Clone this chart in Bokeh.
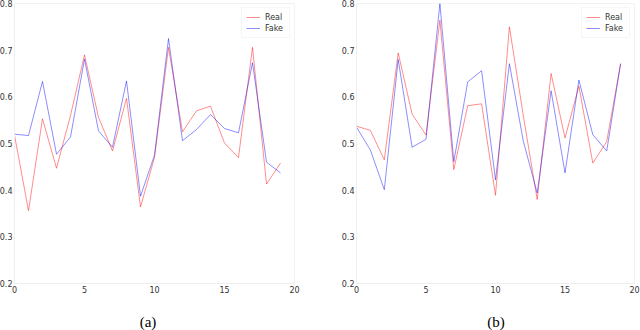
from bokeh.plotting import figure
from bokeh.layouts import row, column
from bokeh.models import Range1d, FixedTicker, Legend, LegendItem, Div
from bokeh.embed import file_html
from bokeh.resources import INLINE

x_vals = list(range(20))

real_a = [0.518, 0.356, 0.553, 0.447, 0.56, 0.690, 0.556, 0.484, 0.597, 0.364,
          0.47, 0.706, 0.525, 0.570, 0.580, 0.501, 0.470, 0.706, 0.413, 0.458]
fake_a = [0.520, 0.517, 0.633, 0.477, 0.514, 0.681, 0.527, 0.492, 0.634, 0.387,
          0.475, 0.725, 0.506, 0.530, 0.562, 0.532, 0.523, 0.673, 0.460, 0.437]

real_b = [0.537, 0.528, 0.465, 0.694, 0.563, 0.518, 0.764, 0.444, 0.581, 0.585,
          0.389, 0.750, 0.560, 0.380, 0.650, 0.512, 0.623, 0.458, 0.504, 0.671]
fake_b = [0.535, 0.486, 0.401, 0.680, 0.492, 0.509, 0.800, 0.461, 0.632, 0.656,
          0.422, 0.671, 0.505, 0.394, 0.613, 0.437, 0.636, 0.519, 0.484, 0.671]

x_ticks = [0, 5, 10, 15, 20]
y_ticks = [0.2, 0.3, 0.4, 0.5, 0.6, 0.7, 0.8]
captions = ["(a)", "(b)"]
series_names = ["Real", "Fake"]


def make_panel(real, fake, border_left, border_right):
    p = figure(width=320, height=312, output_backend="svg", toolbar_location=None,
               x_range=Range1d(0, 20), y_range=Range1d(0.2, 0.8),
               min_border_left=border_left, min_border_right=border_right,
               min_border_top=7, min_border_bottom=25)
    p.background_fill_color = "white"
    p.border_fill_color = "white"
    p.outline_line_color = "#f2f2f2"
    p.xgrid.visible = False
    p.ygrid.visible = False
    for ax in (p.xaxis, p.yaxis):
        ax.axis_line_color = "#eeeeee"
        ax.major_tick_line_color = "#dddddd"
        ax.major_tick_out = 0
        ax.major_tick_in = 0
        ax.minor_tick_line_color = None
        ax.major_label_text_font = "DejaVu Sans"
        ax.major_label_text_font_size = "8px"
        ax.major_label_text_color = "#333333"
        ax.major_label_standoff = 2
    p.xaxis.ticker = FixedTicker(ticks=x_ticks)
    p.yaxis.ticker = FixedTicker(ticks=y_ticks)

    r1 = p.line(x_vals, real, line_color="red", line_alpha=0.45, line_width=1)
    r2 = p.line(x_vals, fake, line_color="blue", line_alpha=0.45, line_width=1)
    legend = Legend(items=[LegendItem(label=series_names[0], renderers=[r1]),
                           LegendItem(label=series_names[1], renderers=[r2])],
                    location="top_right")
    legend.label_text_font = "DejaVu Sans"
    legend.label_text_font_size = "8px"
    legend.label_text_color = "#333333"
    legend.label_height = 10
    legend.label_standoff = 5
    legend.glyph_height = 10
    legend.glyph_width = 14
    legend.spacing = 1
    legend.padding = 4
    legend.margin = 4
    legend.border_line_color = "#eeeeee"
    legend.background_fill_alpha = 1.0
    p.add_layout(legend, "center")
    return p


def make_caption(text, shift_left, inner_width):
    html = ('<div style="margin-left:%dpx;width:%dpx;text-align:center;'
            'font-family:\'Liberation Serif\',serif;font-size:15px;line-height:18px;'
            'color:black;">%s</div>' % (shift_left, inner_width, text))
    return Div(text=html, width=320, height=18)


p1 = make_panel(real_a, fake_a, 17, 22)
p2 = make_panel(real_b, fake_b, 30, 12)

left = column(p1, make_caption(captions[0], 0, 294))
right = column(p2, make_caption(captions[1], 10, 310))
layout = row(left, right)
layout.margin = (-4, 0, 0, -4)

open("out.html", "w").write(file_html(layout, INLINE))
